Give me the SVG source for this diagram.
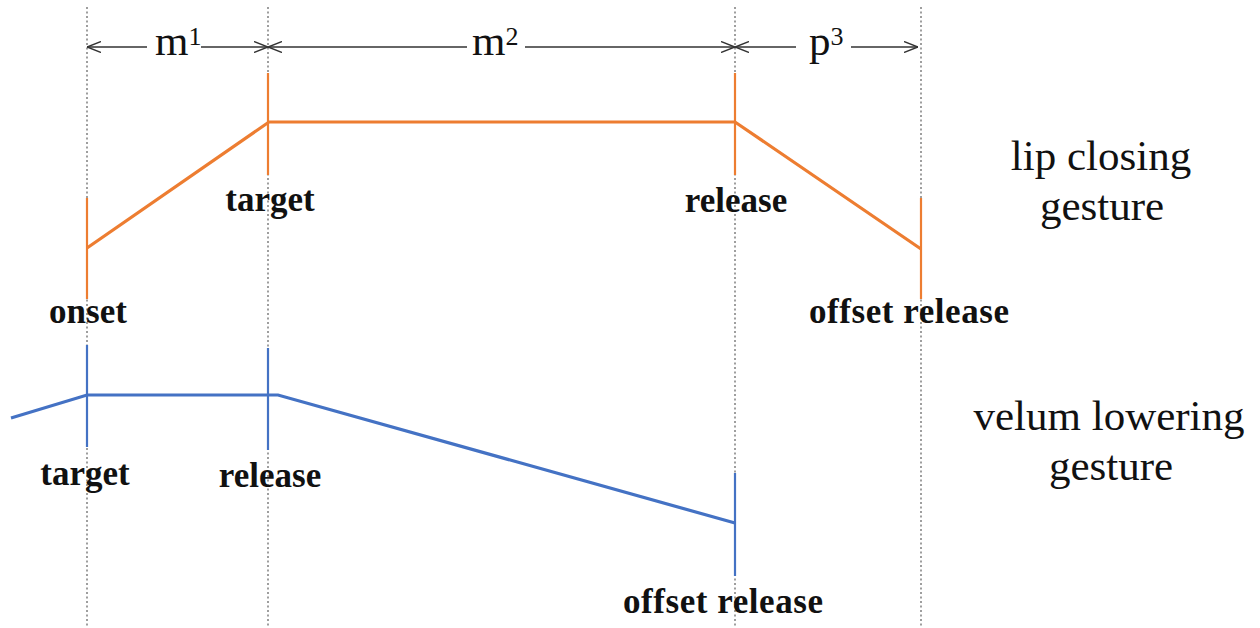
<svg xmlns="http://www.w3.org/2000/svg" width="1260" height="628" viewBox="0 0 1260 628">
<style>
.grid{stroke:#9e9e9e;stroke-width:2;stroke-dasharray:2 2.5;fill:none}
.dim{stroke:#333;stroke-width:1.4;fill:none}
.lip{stroke:#ED7D31;stroke-width:3.2;fill:none;stroke-linejoin:miter}
.lipt{stroke:#ED7D31;stroke-width:2.2}
.vel{stroke:#4472C4;stroke-width:3.2;fill:none}
.velt{stroke:#4472C4;stroke-width:2.2}
.lbl{font-family:"Liberation Serif",serif;font-weight:bold;font-size:35px;fill:#111;text-anchor:middle}
.big{font-family:"Liberation Serif",serif;font-size:43px;fill:#111;text-anchor:middle}
.dimt{font-family:"Liberation Serif",serif;font-size:43px;fill:#111}
.sup{font-size:26px}
</style>
<defs>
<marker id="ah" viewBox="0 0 14 12" refX="14" refY="6" markerWidth="14" markerHeight="12" markerUnits="userSpaceOnUse" orient="auto-start-reverse">
<path d="M0,0.5 L14,6 L0,11.5" fill="none" stroke="#333" stroke-width="1.4"/>
</marker>
</defs>
<rect width="1260" height="628" fill="#fff"/>
<g id="gridlines">
<line class="grid" x1="87" y1="7" x2="87" y2="628"/>
<line class="grid" x1="268" y1="7" x2="268" y2="628"/>
<line class="grid" x1="735" y1="7" x2="735" y2="628"/>
<line class="grid" x1="921" y1="7" x2="921" y2="628"/>
</g>
<g id="connectors">
<line class="dim" x1="87" y1="47" x2="147" y2="47" marker-start="url(#ah)"/>
<line class="dim" x1="201" y1="47" x2="268" y2="47" marker-end="url(#ah)"/>
<line class="dim" x1="268" y1="47" x2="467" y2="47" marker-start="url(#ah)"/>
<line class="dim" x1="525" y1="47" x2="735" y2="47" marker-end="url(#ah)"/>
<line class="dim" x1="735" y1="47" x2="796" y2="47" marker-start="url(#ah)"/>
<line class="dim" x1="851" y1="47" x2="918" y2="47" marker-end="url(#ah)"/>
</g>
<g id="dim-labels">
<text class="dimt" x="155" y="55">m<tspan class="sup" dy="-10">1</tspan></text>
<text class="dimt" x="472" y="55">m<tspan class="sup" dy="-10">2</tspan></text>
<text class="dimt" x="809" y="55">p<tspan class="sup" dy="-10">3</tspan></text>
</g>
<g id="lip-gesture">
<line class="lipt" x1="87" y1="198" x2="87" y2="299"/>
<line class="lipt" x1="268" y1="73" x2="268" y2="175"/>
<line class="lipt" x1="735" y1="73" x2="735" y2="175"/>
<line class="lipt" x1="921" y1="198" x2="921" y2="299"/>
<polyline class="lip" points="87,248 269,122 735,122 921,249"/>
<text class="lbl" x="88" y="323">onset</text>
<text class="lbl" x="270" y="211">target</text>
<text class="lbl" x="736" y="212">release</text>
<text class="lbl" x="909" y="323" textLength="200" lengthAdjust="spacing">offset release</text>
<text class="big" x="1101" y="170">lip closing</text>
<text class="big" x="1102" y="220">gesture</text>
</g>
<g id="velum-gesture">
<line class="velt" x1="87" y1="345" x2="87" y2="447"/>
<line class="velt" x1="268" y1="348" x2="268" y2="450"/>
<line class="velt" x1="735" y1="473" x2="735" y2="576"/>
<polyline class="vel" points="11,418 87,395 278,395 735,523"/>
<text class="lbl" x="85" y="485">target</text>
<text class="lbl" x="270" y="487">release</text>
<text class="lbl" x="723" y="613" textLength="200" lengthAdjust="spacing">offset release</text>
<text class="big" x="1109" y="430">velum lowering</text>
<text class="big" x="1111" y="480">gesture</text>
</g>
</svg>
